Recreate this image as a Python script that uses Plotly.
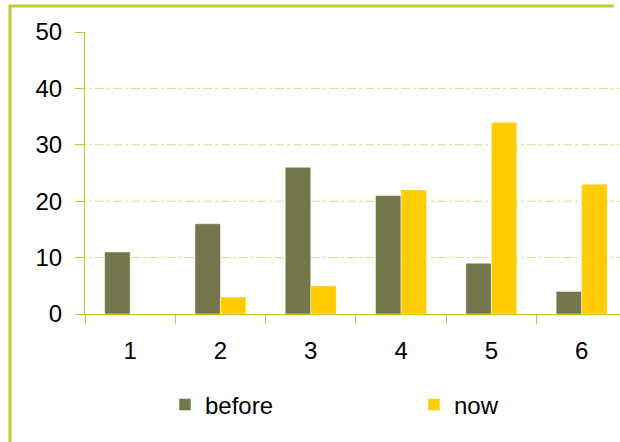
import plotly.graph_objects as go

# Chart data
categories = ["1", "2", "3", "4", "5", "6"]
before = [11, 16, 26, 21, 9, 4]
now = [0, 3, 5, 22, 34, 23]
y_ticks = [0, 10, 20, 30, 40, 50]
grid_values = [10, 20, 30, 40]

W, H = 620, 442
ML, MR, MT, MB = 85, 0, 32, 128
PW, PH = W - ML - MR, H - MT - MB
YMAX = 50
CAT_PX = 90.3  # pixel width of one category slot

FRAME = "#c3cc36"
AXIS = "#bcc62e"
GRID = "#d5dc8c"
FONT = "Liberation Sans, Arial, sans-serif"
FONT_SIZE = 24


def px_x(px):
    return (px - ML) / PW


def px_y(py):
    return (H - MB - py) / PH


fig = go.Figure()
fig.add_trace(go.Bar(x=categories, y=before, name="before", legend="legend",
                     marker=dict(color="#74764c",
                                 line=dict(color="rgba(255,255,255,0.45)", width=1))))
fig.add_trace(go.Bar(x=categories, y=now, name="now", legend="legend2",
                     marker=dict(color="#ffcc00",
                                 line=dict(color="rgba(255,255,255,0.45)", width=1))))

shapes = []
# dash-dot horizontal gridlines, starting at the tick marks
for v in grid_values:
    shapes.append(dict(type="line", xref="paper", yref="paper",
                       x0=px_x(77), x1=1, y0=v / YMAX, y1=v / YMAX,
                       line=dict(color=GRID, width=1, dash="dashdot"),
                       layer="below"))
# outer frame (left and top edges)
shapes.append(dict(type="line", xref="paper", yref="paper",
                   x0=px_x(10), x1=px_x(10), y0=px_y(6), y1=px_y(460),
                   line=dict(color=FRAME, width=3)))
shapes.append(dict(type="line", xref="paper", yref="paper",
                   x0=px_x(8.5), x1=px_x(614), y0=px_y(6), y1=px_y(6),
                   line=dict(color=FRAME, width=3)))

n_visible = PW / CAT_PX

legend_common = dict(orientation="h", xanchor="left", yanchor="middle",
                     y=px_y(405), font=dict(size=FONT_SIZE, family=FONT),
                     bgcolor="rgba(0,0,0,0)", itemclick=False,
                     borderwidth=0)

fig.update_layout(
    width=W, height=H,
    margin=dict(l=ML, r=MR, t=MT, b=MB, pad=0),
    paper_bgcolor="white", plot_bgcolor="white",
    font=dict(family=FONT, size=FONT_SIZE, color="#000000"),
    barmode="group", bargap=0.435, bargroupgap=0,
    showlegend=True,
    legend=dict(x=px_x(165), **legend_common),
    legend2=dict(x=px_x(414), **legend_common),
    shapes=shapes,
    xaxis=dict(type="category", range=[-0.5, -0.5 + n_visible],
               showline=True, linecolor=AXIS, linewidth=1,
               ticks="outside", ticklen=9, tickcolor=AXIS, tickwidth=1,
               tickson="boundaries", showgrid=False, zeroline=False,
               tickfont=dict(size=FONT_SIZE, family=FONT, color="#000000"),
               ticklabelstandoff=15, fixedrange=True),
    yaxis=dict(range=[0, YMAX], tickvals=y_ticks,
               showline=True, linecolor=AXIS, linewidth=1,
               ticks="outside", ticklen=9, tickcolor=AXIS, tickwidth=1,
               showgrid=False, zeroline=False,
               tickfont=dict(size=FONT_SIZE, family=FONT, color="#000000"),
               ticklabelstandoff=8, fixedrange=True),
)

fig.write_html("out.html")
